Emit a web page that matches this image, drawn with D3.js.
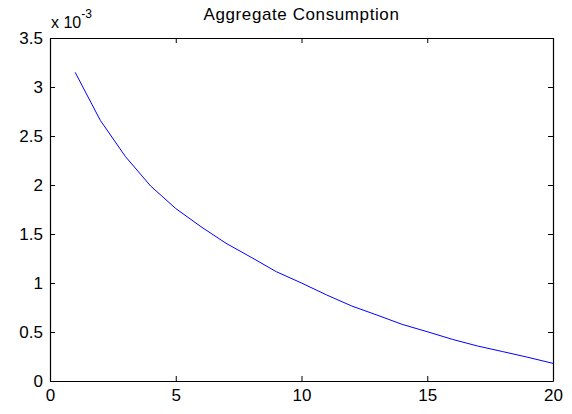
<!DOCTYPE html>
<html lang="en">
<head>
  <meta charset="UTF-8">
  <title>Aggregate Consumption</title>
  <script src="https://d3js.org/d3.v7.min.js"></script>
  <style>
    body { margin: 0; background: #fff; }
    svg { display: block; font-family: "Liberation Sans", Arial, sans-serif; }
  </style>
</head>
<body>
  <svg width="572" height="414"></svg>

  <script>
    const width = 572;
    const height = 414;
    const margin = { top: 38, right: 19, bottom: 33, left: 50 };

    // data (values in units of 1e-3)
    const periods = d3.range(1, 21);
    const consumption = [3.15, 2.66, 2.29, 1.99, 1.76, 1.575, 1.405, 1.262, 1.115, 1.0,
                         0.878, 0.765, 0.673, 0.578, 0.503, 0.425, 0.357, 0.30, 0.242, 0.18];
    const xTicks = [0, 5, 10, 15, 20];
    const yTicks = [0, 0.5, 1, 1.5, 2, 2.5, 3, 3.5];

    const svg = d3.select("svg");

    const xScale = d3.scaleLinear()
      .domain([0, 20])
      .range([margin.left, width - margin.right]);

    const yScale = d3.scaleLinear()
      .domain([0, 3.5])
      .range([height - margin.bottom, margin.top]);

    const tickLen = 5;

    // bottom axis, ticks inward
    const xAxis = svg.append("g")
      .attr("transform", `translate(0,${yScale(0)})`)
      .call(d3.axisBottom(xScale).tickValues(xTicks).tickSizeInner(-tickLen).tickSizeOuter(0)
        .tickPadding(8).tickFormat(d3.format("d")));

    // left axis
    const yAxis = svg.append("g")
      .attr("transform", `translate(${xScale(0)},0)`)
      .call(d3.axisLeft(yScale).tickValues(yTicks).tickSizeInner(-tickLen).tickSizeOuter(0)
        .tickPadding(7).tickFormat(d => String(d)));

    // top and right axes (ticks only)
    const xTop = svg.append("g")
      .attr("transform", `translate(0,${yScale(3.5)})`)
      .call(d3.axisTop(xScale).tickValues(xTicks).tickSizeInner(-tickLen).tickSizeOuter(0).tickFormat(""));

    const yRight = svg.append("g")
      .attr("transform", `translate(${xScale(20)},0)`)
      .call(d3.axisRight(yScale).tickValues(yTicks).tickSizeInner(-tickLen).tickSizeOuter(0).tickFormat(""));

    [xAxis, yAxis, xTop, yRight].forEach(g => {
      g.select(".domain").attr("stroke", "#000").attr("stroke-width", 1.2);
      g.selectAll(".tick line").attr("stroke", "#000");
      g.selectAll(".tick text")
        .attr("fill", "#000")
        .style("font-size", "17px")
        .style("font-family", "'Liberation Sans', Arial, sans-serif");
    });

    // line
    const line = d3.line()
      .x((d, i) => xScale(periods[i]))
      .y(d => yScale(d));

    svg.append("path")
      .datum(consumption)
      .attr("d", line)
      .attr("fill", "none")
      .attr("stroke", "#0000ff")
      .attr("stroke-width", 1);

    // title
    svg.append("text")
      .attr("x", (xScale(0) + xScale(20)) / 2)
      .attr("y", 20)
      .attr("text-anchor", "middle")
      .style("font-size", "17px")
      .style("letter-spacing", "0.6px")
      .text("Aggregate Consumption");

    // exponent label
    const expo = svg.append("text")
      .attr("x", xScale(0) + 1)
      .attr("y", 28)
      .style("font-size", "16px");
    expo.append("tspan").text("x 10");
    expo.append("tspan").attr("dy", -10).style("font-size", "12px").text("-3");
  </script>
</body>
</html>
